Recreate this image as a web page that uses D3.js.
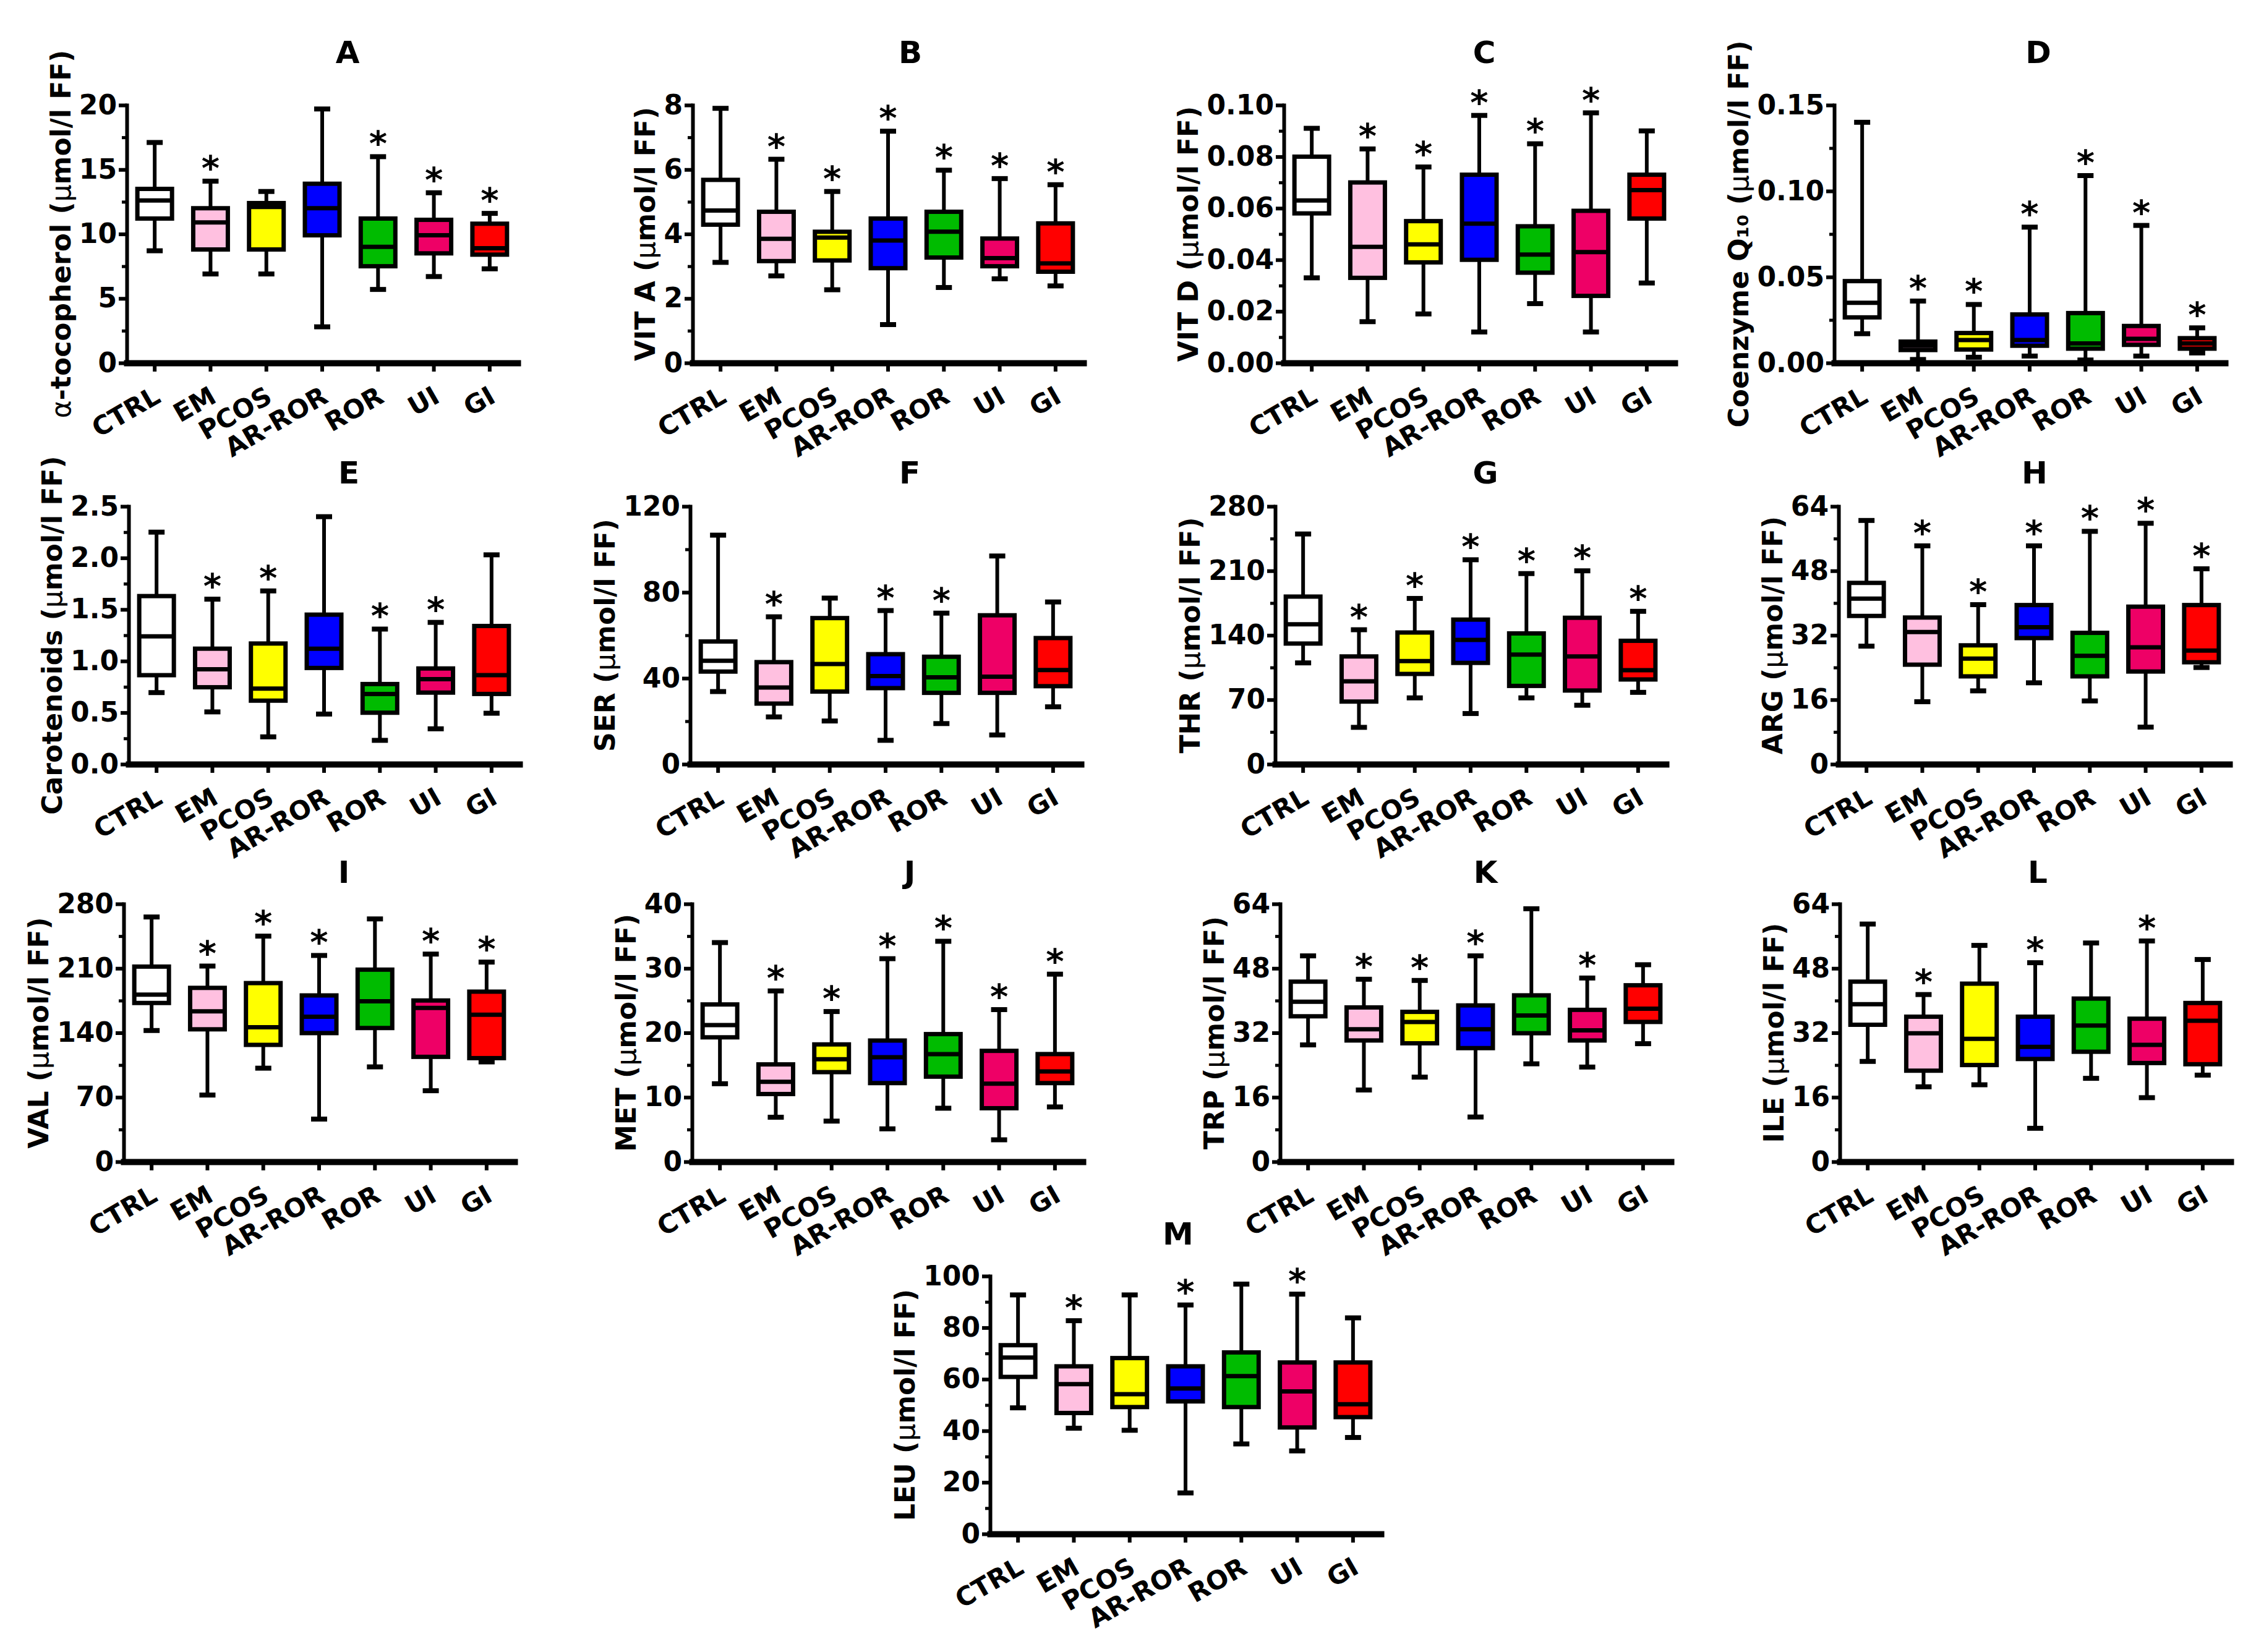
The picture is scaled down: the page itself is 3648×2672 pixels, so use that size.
<!DOCTYPE html>
<html>
<head>
<meta charset="utf-8">
<script src="https://cdnjs.cloudflare.com/ajax/libs/d3/7.8.5/d3.min.js"></script>
<style>
  body { margin: 0; background: #fff; }
  svg text { font-family: "DejaVu Sans", sans-serif; font-weight: bold; fill: #000; }
</style>
</head>
<body>
<svg id="fig" width="3648" height="2672"></svg>
<script>
const groups = ["CTRL", "EM", "PCOS", "AR-ROR", "ROR", "UI", "GI"];
const groupColors = ["#ffffff", "#ffc0e0", "#ffff00", "#0000ff", "#00bb00", "#ee0066", "#ff0000"];

// each row: [min, q1, median, q3, max], one row per group
const tocopherol = [[8.7, 11.2, 12.6, 13.5, 17.1], [6.9, 8.8, 10.9, 12.0, 14.1], [6.9, 8.8, 12.1, 12.4, 13.3],
  [2.8, 9.9, 12.0, 13.9, 19.7], [5.7, 7.5, 9.0, 11.2, 16.0], [6.7, 8.5, 9.9, 11.1, 13.2], [7.3, 8.4, 8.9, 10.8, 11.6]];
const tocopherolStars = [0, 1, 0, 0, 1, 1, 1];

const vitA = [[3.12, 4.29, 4.73, 5.68, 7.9], [2.70, 3.16, 3.85, 4.69, 6.32], [2.27, 3.18, 3.89, 4.07, 5.32],
  [1.19, 2.94, 3.80, 4.48, 7.19], [2.34, 3.27, 4.07, 4.69, 5.98], [2.61, 3.0, 3.25, 3.86, 5.72], [2.39, 2.83, 3.09, 4.33, 5.53]];
const vitAStars = [0, 1, 1, 1, 1, 1, 1];

const vitD = [[0.033, 0.058, 0.063, 0.080, 0.091], [0.016, 0.033, 0.045, 0.070, 0.083], [0.019, 0.039, 0.046, 0.055, 0.076],
  [0.012, 0.040, 0.054, 0.073, 0.096], [0.023, 0.035, 0.042, 0.053, 0.085], [0.012, 0.026, 0.043, 0.059, 0.097], [0.031, 0.056, 0.067, 0.073, 0.090]];
const vitDStars = [0, 1, 1, 1, 1, 1, 0];

const coq10 = [[0.017, 0.0265, 0.035, 0.0476, 0.140], [0.002, 0.0075, 0.010, 0.0124, 0.036], [0.0033, 0.0078, 0.0133, 0.0174, 0.034],
  [0.004, 0.010, 0.0133, 0.0282, 0.079], [0.0017, 0.0083, 0.0113, 0.029, 0.109], [0.004, 0.0105, 0.014, 0.0215, 0.080], [0.0058, 0.0083, 0.0113, 0.0144, 0.0204]];
const coq10Stars = [0, 1, 1, 1, 1, 1, 1];

const carotenoids = [[0.694, 0.863, 1.24, 1.63, 2.25], [0.507, 0.746, 0.92, 1.12, 1.60], [0.265, 0.616, 0.733, 1.17, 1.68],
  [0.486, 0.933, 1.12, 1.45, 2.40], [0.231, 0.499, 0.681, 0.777, 1.31], [0.343, 0.694, 0.824, 0.928, 1.375], [0.494, 0.681, 0.863, 1.34, 2.03]];
const carotenoidsStars = [0, 1, 1, 0, 1, 1, 0];

const ser = [[33.8, 43.1, 48.1, 57.1, 106.6], [22.0, 28.2, 35.7, 47.5, 68.6], [20.1, 33.8, 46.6, 68.0, 77.3],
  [11.1, 35.4, 41, 51.2, 71.5], [18.9, 33.2, 40.4, 50.0, 70.3], [13.6, 33.2, 40.7, 69.3, 96.9], [26.7, 36.3, 43.8, 58.7, 75.5]];
const serStars = [0, 1, 0, 1, 1, 0, 0];

const thr = [[110, 131, 152, 182, 250], [40, 68, 90, 117, 146], [72, 98, 112, 143, 180],
  [55, 110, 135, 157, 222], [72, 85, 119, 142, 207], [64, 80, 117, 159, 210], [78, 92, 102, 134, 166]];
const thrStars = [0, 1, 1, 1, 1, 1, 1];

const arg = [[29.3, 36.8, 41.1, 45.0, 60.5], [15.5, 24.7, 32.8, 36.4, 54.2], [18.2, 21.8, 26.2, 29.5, 39.6],
  [20.2, 31.3, 34.0, 39.5, 54.2], [15.7, 21.8, 26.9, 32.6, 57.8], [9.2, 23.0, 29.0, 39.1, 59.8], [24.0, 25.3, 28.2, 39.5, 48.5]];
const argStars = [0, 1, 1, 1, 1, 1, 1];

const val = [[142.5, 172.4, 181.4, 211.9, 265.8], [72.4, 143.8, 163.4, 188.8, 212.5], [101.6, 126.9, 146, 194, 245],
  [46.3, 139.7, 157.4, 180.6, 224], [103, 145.2, 174.3, 208.6, 263.7], [77.1, 113.9, 167, 175.1, 225.5], [108.4, 112.5, 159.6, 184.7, 216.8]];
const valStars = [0, 1, 1, 1, 0, 1, 1];

const met = [[12.1, 19.3, 21.2, 24.4, 34.0], [6.9, 10.5, 12.4, 15.1, 26.5], [6.3, 13.9, 15.9, 18.2, 23.3],
  [5.1, 12.2, 16.2, 18.8, 31.5], [8.3, 13.2, 16.7, 19.8, 34.2], [3.4, 8.3, 12.1, 17.2, 23.6], [8.5, 12.2, 14.0, 16.7, 29.1]];
const metStars = [0, 1, 1, 1, 1, 1, 1];

const trp = [[29.0, 36.1, 39.7, 44.7, 51.1], [17.8, 30.1, 32.9, 38.3, 45.3], [21.0, 29.4, 34.7, 37.2, 45.0],
  [11.1, 28.2, 32.9, 38.8, 51.1], [24.3, 31.9, 36.3, 41.3, 62.8], [23.5, 30.1, 32.6, 37.7, 45.6], [29.3, 34.7, 38.0, 43.8, 48.9]];
const trpStars = [0, 1, 1, 1, 0, 1, 0];

const ile = [[24.9, 34.0, 39.1, 44.7, 59.0], [18.6, 22.6, 31.9, 36.0, 41.5], [19.1, 24.0, 30.5, 44.2, 53.7],
  [8.3, 25.5, 28.5, 36.0, 49.4], [20.7, 27.3, 33.8, 40.5, 54.3], [15.9, 24.5, 29.0, 35.5, 54.8], [21.5, 24.2, 35.0, 39.4, 50.2]];
const ileStars = [0, 1, 0, 1, 0, 1, 0];

const leu = [[48.9, 60.9, 68.4, 73.2, 92.7], [41.0, 46.9, 58.1, 65.0, 82.7], [40.2, 49.2, 54.2, 68.2, 92.7],
  [15.9, 51.4, 56.4, 65.0, 88.8], [34.9, 49.2, 61.2, 70.4, 96.9], [32.2, 41.3, 55.3, 66.5, 93.0], [37.4, 45.3, 50.3, 66.5, 83.8]];
const leuStars = [0, 1, 0, 1, 0, 1, 0];

// y tick labels per panel
const ticksA = [0, 5, 10, 15, 20];
const ticksB = [0, 2, 4, 6, 8];
const ticksC = [0, 0.02, 0.04, 0.06, 0.08, 0.10];
const ticksD = [0, 0.05, 0.10, 0.15];
const ticksE = [0, 0.5, 1.0, 1.5, 2.0, 2.5];
const ticksF = [0, 40, 80, 120];
const ticks70 = [0, 70, 140, 210, 280];
const ticks16 = [0, 16, 32, 48, 64];
const ticksJ = [0, 10, 20, 30, 40];
const ticksM = [0, 20, 40, 60, 80, 100];

const panels = [
  { title: "A", label: "α-tocopherol (μmol/l FF)", data: tocopherol, stars: tocopherolStars, ticks: ticksA, fmt: "d" },
  { title: "B", label: "VIT A (μmol/l FF)", data: vitA, stars: vitAStars, ticks: ticksB, fmt: "d" },
  { title: "C", label: "VIT D (μmol/l FF)", data: vitD, stars: vitDStars, ticks: ticksC, fmt: ".2f" },
  { title: "D", label: "Coenzyme Q₁₀ (μmol/l FF)", data: coq10, stars: coq10Stars, ticks: ticksD, fmt: ".2f" },
  { title: "E", label: "Carotenoids (μmol/l FF)", data: carotenoids, stars: carotenoidsStars, ticks: ticksE, fmt: ".1f" },
  { title: "F", label: "SER (μmol/l FF)", data: ser, stars: serStars, ticks: ticksF, fmt: "d" },
  { title: "G", label: "THR (μmol/l FF)", data: thr, stars: thrStars, ticks: ticks70, fmt: "d" },
  { title: "H", label: "ARG (μmol/l FF)", data: arg, stars: argStars, ticks: ticks16, fmt: "d" },
  { title: "I", label: "VAL (μmol/l FF)", data: val, stars: valStars, ticks: ticks70, fmt: "d" },
  { title: "J", label: "MET (μmol/l FF)", data: met, stars: metStars, ticks: ticksJ, fmt: "d" },
  { title: "K", label: "TRP (μmol/l FF)", data: trp, stars: trpStars, ticks: ticks16, fmt: "d" },
  { title: "L", label: "ILE (μmol/l FF)", data: ile, stars: ileStars, ticks: ticks16, fmt: "d" },
  { title: "M", label: "LEU (μmol/l FF)", data: leu, stars: leuStars, ticks: ticksM, fmt: "d" }
];

// where each plot area sits (y-axis x, plot top) and where its letter goes
const layout = [
  { x: 205, y: 170, tx: 562, ty: 85 }, { x: 1120, y: 170, tx: 1472, ty: 85 },
  { x: 2076, y: 170, tx: 2400, ty: 85 }, { x: 2966, y: 170, tx: 3296, ty: 85 },
  { x: 208, y: 819, tx: 564, ty: 765 }, { x: 1116, y: 819, tx: 1471, ty: 765 },
  { x: 2062, y: 819, tx: 2402, ty: 765 }, { x: 2973, y: 819, tx: 3290, ty: 765 },
  { x: 200, y: 1462, tx: 556, ty: 1411 }, { x: 1119, y: 1462, tx: 1471, ty: 1411 },
  { x: 2070, y: 1462, tx: 2402, ty: 1411 }, { x: 2975, y: 1462, tx: 3295, ty: 1411 },
  { x: 1601, y: 2064, tx: 1905, ty: 1996 }
];

const W = 632, H = 417;
const boxW = 56, capW = 26;
const svg = d3.select("#fig");

function addLabel(sel, str) {
  // greek letters are set in a lighter weight, like the original
  str.split(/([αμ])/).filter(s => s.length).forEach(part => {
    sel.append("tspan").text(part)
      .style("font-weight", /[αμ]/.test(part) ? "normal" : "bold");
  });
}

panels.forEach((p, i) => {
  const pos = layout[i];
  const g = svg.append("g").attr("transform", "translate(" + pos.x + "," + pos.y + ")");

  const x = d3.scaleBand().domain(groups).range([0, W]);
  const y = d3.scaleLinear().domain([0, p.ticks[p.ticks.length - 1]]).range([H, 0]);

  // minor ticks halfway between labels
  const minor = d3.pairs(p.ticks).map(d => (d[0] + d[1]) / 2);
  g.append("g")
    .call(d3.axisLeft(y).tickValues(minor).tickSize(8).tickFormat(""))
    .call(s => s.select(".domain").remove())
    .selectAll("line").attr("stroke-width", 5);

  const yAx = g.append("g")
    .call(d3.axisLeft(y).tickValues(p.ticks).tickSize(13).tickSizeOuter(0).tickPadding(3)
      .tickFormat(d3.format(p.fmt)));
  yAx.select(".domain").attr("stroke-width", 6).attr("stroke-linecap", "square");
  yAx.selectAll(".tick line").attr("stroke-width", 6);
  yAx.selectAll("text").style("font-size", "44px");

  const xAx = g.append("g").attr("transform", "translate(0," + H + ")")
    .call(d3.axisBottom(x).tickSize(14).tickSizeOuter(0));
  xAx.select(".domain").attr("stroke-width", 10).attr("stroke-linecap", "square");
  xAx.selectAll(".tick line").attr("stroke-width", 6);
  xAx.selectAll("text")
    .attr("x", 0).attr("y", 0).attr("dy", 0)
    .attr("text-anchor", "end")
    .attr("transform", "translate(12,62) rotate(-30)")
    .style("font-size", "42px");

  // whiskers, boxes, medians
  const box = g.selectAll(".grp").data(p.data).enter().append("g")
    .attr("transform", (d, j) => "translate(" + (x(groups[j]) + x.bandwidth() / 2) + ",0)");

  box.append("line")
    .attr("x1", 0).attr("x2", 0)
    .attr("y1", d => y(d[0])).attr("y2", d => y(d[4]))
    .attr("stroke", "#000").attr("stroke-width", 6);
  box.selectAll(".cap").data(d => [d[0], d[4]]).enter().append("line")
    .attr("x1", -capW / 2).attr("x2", capW / 2)
    .attr("y1", d => y(d)).attr("y2", d => y(d))
    .attr("stroke", "#000").attr("stroke-width", 8);
  box.append("rect")
    .attr("x", -boxW / 2).attr("width", boxW)
    .attr("y", d => y(d[3])).attr("height", d => y(d[1]) - y(d[3]))
    .attr("fill", (d, j) => groupColors[j])
    .attr("stroke", "#000").attr("stroke-width", 7);
  box.append("line")
    .attr("x1", -boxW / 2).attr("x2", boxW / 2)
    .attr("y1", d => y(d[2])).attr("y2", d => y(d[2]))
    .attr("stroke", "#000").attr("stroke-width", 7);

  box.filter((d, j) => p.stars[j]).append("text")
    .attr("y", d => y(d[4]) - 2)
    .attr("text-anchor", "middle")
    .style("font-size", "56px")
    .text("*");

  // axis title, placed left of the tick labels
  const bb = yAx.node().getBBox();
  const lx = bb.x - 14;
  const lab = g.append("text")
    .attr("transform", "translate(" + lx + "," + (H / 2) + ") rotate(-90)")
    .attr("text-anchor", "middle")
    .style("font-size", "44px");
  addLabel(lab, p.label);

  svg.append("text")
    .attr("x", pos.tx).attr("y", pos.ty)
    .attr("text-anchor", "middle").attr("dominant-baseline", "central")
    .style("font-size", "50px")
    .text(p.title);
});
</script>
</body>
</html>
